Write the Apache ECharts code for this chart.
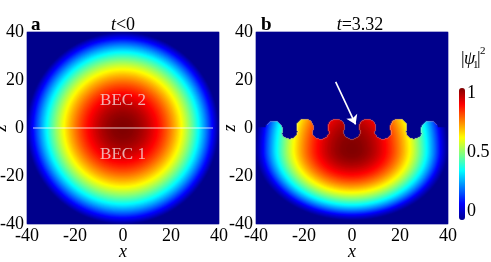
<!DOCTYPE html>
<html>
<head>
<meta charset="utf-8">
<script src="https://cdn.jsdelivr.net/npm/echarts@6/dist/echarts.min.js"></script>
<style>
html,body{margin:0;padding:0;background:#ffffff;}
#chart{width:491px;height:262px;}
</style>
</head>
<body>
<div id="chart"></div>
<script>
// ---------------- data ----------------
const axisTicks = [-40, -20, 0, 20, 40];
const colorTicks = [0, 0.5, 1];
// radii (grid units) at which |psi1|^2 was read
const radii = [0,2,4,6,8,10,12,14,16,18,20,22,24,26,28,30,32,34,36,38,40];
// panel a (t<0): |psi1|^2 along the radius from the trap centre
const densityA = [1.00,0.998,0.99,0.978,0.96,0.938,0.91,0.878,0.84,0.798,0.75,0.698,0.64,0.578,0.51,0.438,0.36,0.278,0.19,0.098,0.0];
// panel b (t=3.32): |psi1|^2 along the (scaled) radius from the cloud centre
const densityB = [1.00,0.997,0.99,0.977,0.959,0.936,0.908,0.874,0.836,0.792,0.744,0.69,0.631,0.567,0.497,0.423,0.344,0.259,0.169,0.074,0.0];
const cloudCentreB = [0, -9];
const cloudAspectB = [1.36, 0.8];   // vertical scale below / above the centre
// panel b interface: finger caps and the holes between them
const fingerX = [-32.5,-19.5,-6.5,6.5,19.5,32.5];
const fingerTop = [3.0,3.9,3.9,3.9,3.9,3.0];
const fingerRadius = [3.8,3.6,3.6,3.6,3.6,3.8];
const holeX = [-26,-13,0,13,26];
const holeBottom = [-4.4,-4.5,-4.5,-4.5,-4.4];
const holeRadius = [3.4,3.5,3.5,3.5,3.4];
const interfaceLevelB = 0.3;
// panel a interface line, labels; panel b arrow
const interfaceA = [[-37.5, 0], [37.5, 0]];
const labelsA = [[0, 11.5, 'BEC 2'], [0, -11, 'BEC 1']];
const arrowB = [[-6.8, 19.2], [1.5, 1.5]];
// ---------------------------------------------------------------

const N = 192;            // cells per side (1 px each)
const LO = -40, HI = 40;
const step = (HI - LO) / N;
const cats = [];
for (let i = 0; i < N; i++) cats.push(i);

function lookup(profile, r) {
  const d = radii[1] - radii[0];
  const t = r / d;
  const i = Math.floor(t);
  if (i >= profile.length - 1) return 0;
  const f = t - i;
  return profile[i] * (1 - f) + profile[i + 1] * f;
}
function insideB(x, z) {
  for (let k = 0; k < fingerX.length; k++) {
    const cz = fingerTop[k] - fingerRadius[k];
    if ((x - fingerX[k]) ** 2 + (z - cz) ** 2 <= fingerRadius[k] ** 2) return true;
  }
  if (z > interfaceLevelB) return false;
  for (let k = 0; k < holeX.length; k++) {
    const cz = holeBottom[k] + holeRadius[k];
    if ((x - holeX[k]) ** 2 + (z - cz) ** 2 <= holeRadius[k] ** 2) return false;
  }
  return true;
}
function valueB(x, z) {
  if (!insideB(x, z)) return 0;
  const dx = x - cloudCentreB[0];
  const rel = z - cloudCentreB[1];
  const dz = rel * (rel < 0 ? cloudAspectB[0] : cloudAspectB[1]);
  return lookup(densityB, Math.sqrt(dx * dx + dz * dz));
}

const heatA = [], heatB = [], maskB = [];
for (let i = 0; i < N; i++) {
  maskB.push([]);
  for (let j = 0; j < N; j++) {
    const x = LO + (i + 0.5) * step, z = LO + (j + 0.5) * step;
    heatA.push([i, j, lookup(densityA, Math.sqrt(x * x + z * z))]);
    const v = valueB(x, z);
    heatB.push([i, j, v]);
    maskB[i].push(v > 0.02);
  }
}
const outlineB = [];
for (let i = 1; i < N - 1; i++) {
  for (let j = 1; j < N - 1; j++) {
    const x = LO + (i + 0.5) * step, z = LO + (j + 0.5) * step;
    if (!maskB[i][j] || z < -8 || Math.abs(x) > 35.5) continue;
    if (!maskB[i-1][j] || !maskB[i+1][j] || !maskB[i][j-1] || !maskB[i][j+1]) {
      outlineB.push([x, z]);
    }
  }
}

const FONT = '"Liberation Serif", "Times New Roman", serif';
const jet = ['#00008F','#0000FF','#0080FF','#00FFFF','#80FF80','#FFFF00','#FF8000','#FF0000','#800000'];

function valueAxis(gridIndex, isX) {
  const ax = {
    type: 'value', gridIndex: gridIndex, position: isX ? 'bottom' : 'left',
    min: axisTicks[0], max: axisTicks[axisTicks.length - 1],
    interval: axisTicks[1] - axisTicks[0],
    axisLine: {show: false}, axisTick: {show: false}, splitLine: {show: false},
    axisLabel: {fontFamily: FONT, fontSize: 18, color: '#000', margin: 3},
    name: isX ? 'x' : 'z', nameLocation: 'middle', nameMoveOverlap: false,
    nameGap: isX ? 19 : 17,
    nameTextStyle: {fontFamily: FONT, fontSize: 18, fontStyle: 'italic', color: '#000'},
    z: 10
  };
  if (!isX) ax.nameRotate = 90;
  return ax;
}
function catAxis(gridIndex, isX) {
  return {type: 'category', gridIndex: gridIndex, position: isX ? 'top' : 'right', data: cats, show: false};
}

const chart = echarts.init(document.getElementById('chart'), null, {renderer: 'canvas'});
chart.setOption({
  animation: false,
  backgroundColor: '#ffffff',
  grid: [
    {left: 27, top: 32, width: 192, height: 192, containLabel: false, outerBoundsMode: 'none'},
    {left: 256, top: 32, width: 192, height: 192, containLabel: false, outerBoundsMode: 'none'},
    {left: 459, top: 93, width: 6, height: 118, containLabel: false, outerBoundsMode: 'none'}
  ],
  xAxis: [
    catAxis(0, true), valueAxis(0, true),
    catAxis(1, true), valueAxis(1, true),
    {type: 'category', gridIndex: 2, data: [''], show: false}
  ],
  yAxis: [
    catAxis(0, false), valueAxis(0, false),
    catAxis(1, false), valueAxis(1, false),
    {type: 'value', gridIndex: 2, min: colorTicks[0], max: colorTicks[colorTicks.length - 1],
     interval: colorTicks[1] - colorTicks[0], position: 'right',
     axisLine: {show: false}, axisTick: {show: false}, splitLine: {show: false},
     axisLabel: {fontFamily: FONT, fontSize: 18, color: '#000', margin: 2}}
  ],
  visualMap: {
    type: 'continuous', min: 0, max: 1, seriesIndex: [0, 3],
    calculable: false, hoverLink: false, realtime: false,
    orient: 'vertical', left: 459, top: 88, itemWidth: 6, itemHeight: 132, padding: 0,
    inRange: {color: jet}
  },
  series: [
    {type: 'heatmap', xAxisIndex: 0, yAxisIndex: 0, data: heatA, progressive: 0,
     itemStyle: {borderWidth: 0}, emphasis: {disabled: true}, silent: true},
    {type: 'line', xAxisIndex: 1, yAxisIndex: 1, data: interfaceA, symbol: 'none',
     lineStyle: {color: 'rgba(255,255,255,0.4)', width: 2}, silent: true, z: 5},
    {type: 'scatter', xAxisIndex: 1, yAxisIndex: 1, data: labelsA, symbolSize: 0, silent: true, z: 6,
     label: {show: true, position: 'inside', formatter: p => p.value[2],
             fontFamily: FONT, fontSize: 17, color: '#F3DADA'}},
    {type: 'heatmap', xAxisIndex: 2, yAxisIndex: 2, data: heatB, progressive: 0,
     itemStyle: {borderWidth: 0}, emphasis: {disabled: true}, silent: true},
    {type: 'scatter', xAxisIndex: 3, yAxisIndex: 3, data: outlineB, symbol: 'rect', symbolSize: 1.2,
     itemStyle: {color: 'rgba(255,225,225,0.3)'}, silent: true, z: 5},
    {type: 'line', xAxisIndex: 3, yAxisIndex: 3, data: arrowB, symbol: 'none',
     lineStyle: {width: 0, opacity: 0}, silent: true, z: 6,
     markLine: {silent: true, symbol: ['none', 'arrow'], symbolSize: 9, label: {show: false},
       lineStyle: {color: '#ffffff', width: 1.6, type: 'solid'},
       data: [[{coord: arrowB[0]}, {coord: arrowB[1]}]]}}
  ],
  graphic: [
    {type: 'text', x: 31, y: 25, style: {text: 'a', font: 'bold 19px ' + FONT, fill: '#000', verticalAlign: 'middle'}},
    {type: 'text', x: 123, y: 25, style: {text: '{i|t}{n|<0}', align: 'center', verticalAlign: 'middle',
      rich: {i: {fontFamily: FONT, fontSize: 18, fontStyle: 'italic', fill: '#000'},
             n: {fontFamily: FONT, fontSize: 18, fill: '#000'}}}},
    {type: 'text', x: 261, y: 25, style: {text: 'b', font: 'bold 19px ' + FONT, fill: '#000', verticalAlign: 'middle'}},
    {type: 'text', x: 360, y: 25, style: {text: '{i|t}{n|=3.32}', align: 'center', verticalAlign: 'middle',
      rich: {i: {fontFamily: FONT, fontSize: 18, fontStyle: 'italic', fill: '#000'},
             n: {fontFamily: FONT, fontSize: 18, fill: '#000'}}}},
    {type: 'text', x: 461, y: 59, style: {text: '|', font: '18px ' + FONT, fill: '#000', verticalAlign: 'middle'}},
    {type: 'text', x: 464, y: 59, style: {text: 'ψ', font: 'italic 18px ' + FONT, fill: '#000', verticalAlign: 'middle'}},
    {type: 'text', x: 473, y: 65, style: {text: '1', font: '11px ' + FONT, fill: '#000', verticalAlign: 'middle'}},
    {type: 'text', x: 477, y: 59, style: {text: '|', font: '18px ' + FONT, fill: '#000', verticalAlign: 'middle'}},
    {type: 'text', x: 480, y: 51, style: {text: '2', font: '11px ' + FONT, fill: '#000', verticalAlign: 'middle'}}
  ]
});
</script>
</body>
</html>
